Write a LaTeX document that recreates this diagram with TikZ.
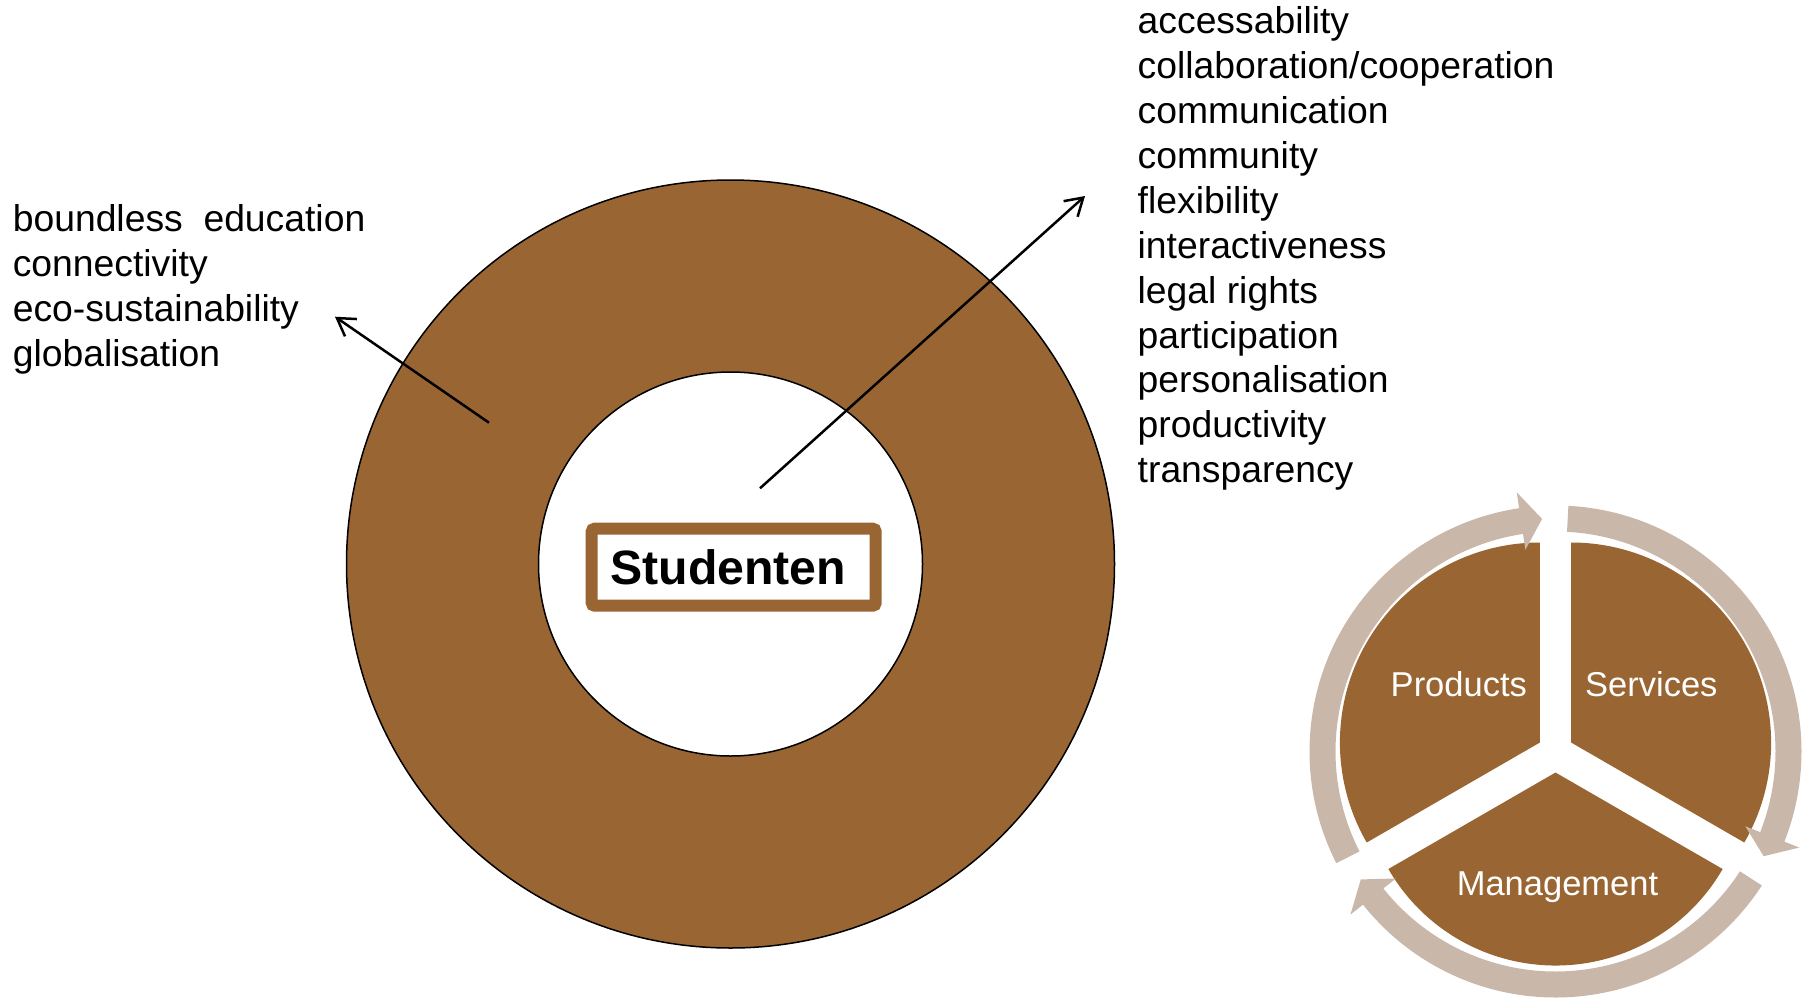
\documentclass[tikz,border=0pt]{standalone}
\usepackage{fontspec}
\setmainfont{Liberation Sans}
\usetikzlibrary{arrows.meta,calc}
\definecolor{brownc}{HTML}{996633}
\definecolor{tanc}{HTML}{C9B7AA}
\begin{document}
\begin{tikzpicture}[x=1pt,y=-1pt,
  listtxt/.style={anchor=base west, inner sep=0pt, font=\fontsize{37.3}{44}\selectfont},
  pietxt/.style={anchor=base, inner sep=0pt, text=white, font=\fontsize{34.5}{40}\selectfont},
  pointer/.style={line width=2.5pt, -{Straight Barb[length=17pt,width=21pt]}},
  ringarrow/.style={fill=tanc},
  wedge/.style={fill=brownc},
  studbox/.style={draw=brownc, line width=12pt, fill=white, rounded corners=3pt,
    minimum width=284pt, minimum height=77pt, inner sep=0pt,
    font=\bfseries\fontsize{48.2}{50}\selectfont}]
\useasboundingbox (0,0) rectangle (1805,1007);

% donut
\node[circle, fill=brownc, draw=black, line width=1.5pt, minimum size=768pt, inner sep=0pt] (outer) at (730.5,564) {};
\node[circle, fill=white, draw=black, line width=1.5pt, minimum size=384pt, inner sep=0pt] (inner) at (730.5,564) {};

% pointers
\coordinate (la0) at (489,422.7);
\coordinate (la1) at (335,316.7);
\coordinate (ra0) at (760,488.3);
\coordinate (ra1) at (1085,196);
\draw[pointer] (la0) -- (la1);
\draw[pointer] (ra0) -- (ra1);

% Studenten box
\node[studbox] (stud) at (733.7,567.2) {Studenten\kern 11pt};

% left list
\foreach \txt [count=\i from 0] in {boundless\ \ education, connectivity, eco-sustainability, globalisation}{
  \node[listtxt] (l\i) at (12.6,231.7+44.9*\i) {\txt};
}
% right list
\foreach \txt [count=\i from 0] in {accessability, collaboration/cooperation, communication, community, flexibility, interactiveness, legal rights, participation, personalisation, productivity, transparency}{
  \node[listtxt] (r\i) at (1137.5,33.7+44.9*\i) {\txt};
}

% cycle diagram
\coordinate (C) at (1555.5,751.5);
\foreach \th/\R in {150/200, 30/200}{
  \fill[wedge] ($(C)+(\th:18pt)$) -- ++(\th-60:\R pt)
     arc[start angle=\th-60, end angle=\th+60, radius=\R pt] -- cycle;
}
\fill[wedge] ($(C)+(270:21pt)$) -- ++(210:193pt)
     arc[start angle=210, end angle=330, radius=193pt] -- cycle;
\foreach \k in {0,1,2}{
  \pgfmathsetmacro\angS{207-120*\k}
  \pgfmathsetmacro\angB{98.5-120*\k}
  \pgfmathsetmacro\angT{93.3-120*\k}
  \fill[ringarrow] ($(C)+(\angS:246pt)$) arc[start angle=\angS, end angle=\angB, radius=246pt]
     -- ($(C)+(\angB:262pt)$) -- ($(C)+(\angT:233pt)$) -- ($(C)+(\angB:204pt)$)
     -- ($(C)+(\angB:220pt)$) arc[start angle=\angB, end angle=\angS, radius=220pt] -- cycle;
}
\node[pietxt] (prod) at (1458.8,696.7) {Products};
\node[pietxt] (serv) at (1651.3,696.7) {Services};
\node[pietxt] (mgmt) at (1557.5,895.3) {Management};
\end{tikzpicture}
\end{document}
